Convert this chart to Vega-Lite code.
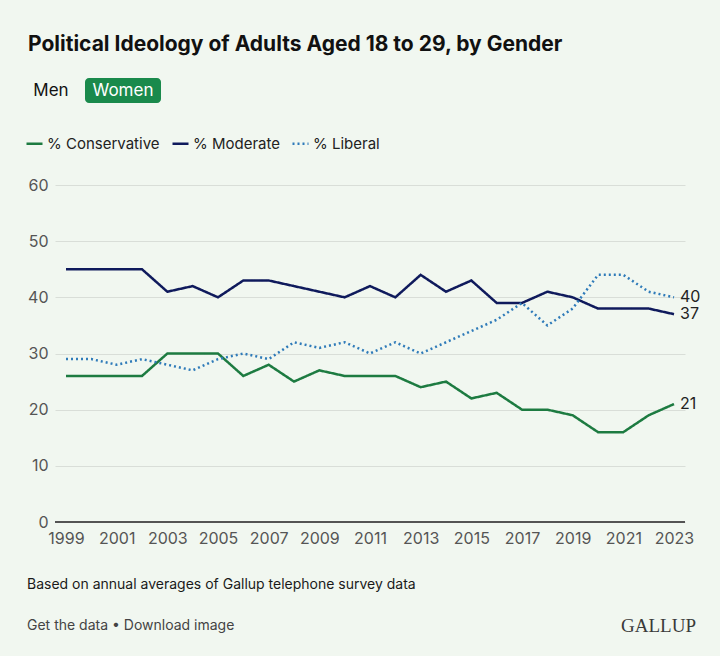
{
  "$schema": "https://vega.github.io/schema/vega-lite/v6.json",
  "background": "#f1f7f0",
  "padding": {"left": 25, "top": 34, "right": 20, "bottom": 20},
  "title": {
    "text": "Political Ideology of Adults Aged 18 to 29, by Gender",
    "anchor": "start",
    "frame": "bounds",
    "dx": 3,
    "fontSize": 21,
    "fontWeight": 700,
    "color": "#111111",
    "offset": 23
  },
  "spacing": 74,
  "vconcat": [
    {
      "width": 120,
      "height": 25,
      "data": {
        "values": [
          {"gender": "Men", "selected": "no"},
          {"gender": "Women", "selected": "yes"}
        ]
      },
      "encoding": {
        "x": {
          "field": "gender",
          "type": "nominal",
          "scale": {"type": "point", "range": [-4, 68], "padding": 0},
          "axis": null
        }
      },
      "layer": [
        {
          "transform": [{"filter": "datum.selected == 'yes'"}],
          "mark": {"type": "bar", "width": 76, "cornerRadius": 4, "color": "#1a8a4c"}
        },
        {
          "mark": {"type": "text", "fontSize": 17},
          "encoding": {
            "text": {"field": "gender"},
            "color": {
              "condition": {"test": "datum.selected == 'yes'", "value": "#ffffff"},
              "value": "#111111"
            }
          }
        }
      ],
      "view": {"stroke": null}
    },
    {
      "spacing": 32,
      "vconcat": [
        {
          "width": 630,
          "height": 337,
          "data": {
            "values": [
              {"year": 1999, "series": "% Conservative", "value": 26},
              {"year": 2000, "series": "% Conservative", "value": 26},
              {"year": 2001, "series": "% Conservative", "value": 26},
              {"year": 2002, "series": "% Conservative", "value": 26},
              {"year": 2003, "series": "% Conservative", "value": 30},
              {"year": 2004, "series": "% Conservative", "value": 30},
              {"year": 2005, "series": "% Conservative", "value": 30},
              {"year": 2006, "series": "% Conservative", "value": 26},
              {"year": 2007, "series": "% Conservative", "value": 28},
              {"year": 2008, "series": "% Conservative", "value": 25},
              {"year": 2009, "series": "% Conservative", "value": 27},
              {"year": 2010, "series": "% Conservative", "value": 26},
              {"year": 2011, "series": "% Conservative", "value": 26},
              {"year": 2012, "series": "% Conservative", "value": 26},
              {"year": 2013, "series": "% Conservative", "value": 24},
              {"year": 2014, "series": "% Conservative", "value": 25},
              {"year": 2015, "series": "% Conservative", "value": 22},
              {"year": 2016, "series": "% Conservative", "value": 23},
              {"year": 2017, "series": "% Conservative", "value": 20},
              {"year": 2018, "series": "% Conservative", "value": 20},
              {"year": 2019, "series": "% Conservative", "value": 19},
              {"year": 2020, "series": "% Conservative", "value": 16},
              {"year": 2021, "series": "% Conservative", "value": 16},
              {"year": 2022, "series": "% Conservative", "value": 19},
              {"year": 2023, "series": "% Conservative", "value": 21},
              {"year": 1999, "series": "% Moderate", "value": 45},
              {"year": 2000, "series": "% Moderate", "value": 45},
              {"year": 2001, "series": "% Moderate", "value": 45},
              {"year": 2002, "series": "% Moderate", "value": 45},
              {"year": 2003, "series": "% Moderate", "value": 41},
              {"year": 2004, "series": "% Moderate", "value": 42},
              {"year": 2005, "series": "% Moderate", "value": 40},
              {"year": 2006, "series": "% Moderate", "value": 43},
              {"year": 2007, "series": "% Moderate", "value": 43},
              {"year": 2008, "series": "% Moderate", "value": 42},
              {"year": 2009, "series": "% Moderate", "value": 41},
              {"year": 2010, "series": "% Moderate", "value": 40},
              {"year": 2011, "series": "% Moderate", "value": 42},
              {"year": 2012, "series": "% Moderate", "value": 40},
              {"year": 2013, "series": "% Moderate", "value": 44},
              {"year": 2014, "series": "% Moderate", "value": 41},
              {"year": 2015, "series": "% Moderate", "value": 43},
              {"year": 2016, "series": "% Moderate", "value": 39},
              {"year": 2017, "series": "% Moderate", "value": 39},
              {"year": 2018, "series": "% Moderate", "value": 41},
              {"year": 2019, "series": "% Moderate", "value": 40},
              {"year": 2020, "series": "% Moderate", "value": 38},
              {"year": 2021, "series": "% Moderate", "value": 38},
              {"year": 2022, "series": "% Moderate", "value": 38},
              {"year": 2023, "series": "% Moderate", "value": 37},
              {"year": 1999, "series": "% Liberal", "value": 29},
              {"year": 2000, "series": "% Liberal", "value": 29},
              {"year": 2001, "series": "% Liberal", "value": 28},
              {"year": 2002, "series": "% Liberal", "value": 29},
              {"year": 2003, "series": "% Liberal", "value": 28},
              {"year": 2004, "series": "% Liberal", "value": 27},
              {"year": 2005, "series": "% Liberal", "value": 29},
              {"year": 2006, "series": "% Liberal", "value": 30},
              {"year": 2007, "series": "% Liberal", "value": 29},
              {"year": 2008, "series": "% Liberal", "value": 32},
              {"year": 2009, "series": "% Liberal", "value": 31},
              {"year": 2010, "series": "% Liberal", "value": 32},
              {"year": 2011, "series": "% Liberal", "value": 30},
              {"year": 2012, "series": "% Liberal", "value": 32},
              {"year": 2013, "series": "% Liberal", "value": 30},
              {"year": 2014, "series": "% Liberal", "value": 32},
              {"year": 2015, "series": "% Liberal", "value": 34},
              {"year": 2016, "series": "% Liberal", "value": 36},
              {"year": 2017, "series": "% Liberal", "value": 39},
              {"year": 2018, "series": "% Liberal", "value": 35},
              {"year": 2019, "series": "% Liberal", "value": 38},
              {"year": 2020, "series": "% Liberal", "value": 44},
              {"year": 2021, "series": "% Liberal", "value": 44},
              {"year": 2022, "series": "% Liberal", "value": 41},
              {"year": 2023, "series": "% Liberal", "value": 40}
            ]
          },
          "encoding": {
            "x": {
              "field": "year",
              "type": "quantitative",
              "scale": {"domain": [1998.566, 2023.434], "nice": false, "zero": false},
              "axis": {
                "values": [1999, 2001, 2003, 2005, 2007, 2009, 2011, 2013, 2015, 2017, 2019, 2021, 2023],
                "format": "d",
                "title": null,
                "grid": false,
                "domain": false,
                "ticks": false,
                "labelPadding": 8,
                "labelFontSize": 16,
                "labelColor": "#555555"
              }
            },
            "y": {
              "field": "value",
              "type": "quantitative",
              "scale": {"domain": [0, 60], "nice": false},
              "axis": {
                "values": [0, 10, 20, 30, 40, 50, 60],
                "title": null,
                "domain": false,
                "ticks": false,
                "gridColor": "#d9ded8",
                "labelPadding": 7,
                "labelFontSize": 16,
                "labelColor": "#555555"
              }
            }
          },
          "layer": [
            {
              "mark": {"type": "rule", "color": "#555555", "strokeWidth": 1.5},
              "encoding": {"x": null, "y": {"datum": 0}}
            },
            {
              "mark": {"type": "line", "strokeWidth": 2.5},
              "encoding": {
                "color": {
                  "field": "series",
                  "type": "nominal",
                  "sort": null,
                  "scale": {
                    "domain": ["% Conservative", "% Moderate", "% Liberal"],
                    "range": ["#1d7b41", "#0f1a5c", "#2f7bb9"]
                  },
                  "legend": {
                    "orient": "none",
                    "legendX": -30,
                    "legendY": 56,
                    "direction": "horizontal",
                    "title": null,
                    "symbolType": "stroke",
                    "symbolSize": 256,
                    "symbolStrokeWidth": 2.5,
                    "labelFontSize": 15,
                    "labelColor": "#222222",
                    "labelOffset": 3,
                    "columnPadding": 7
                  }
                },
                "strokeDash": {
                  "field": "series",
                  "type": "nominal",
                  "sort": null,
                  "scale": {
                    "domain": ["% Conservative", "% Moderate", "% Liberal"],
                    "range": [[1, 0], [1, 0], [2, 3]]
                  },
                  "legend": {
                    "orient": "none",
                    "legendX": -30,
                    "legendY": 56,
                    "direction": "horizontal",
                    "title": null,
                    "symbolType": "stroke",
                    "symbolSize": 256,
                    "symbolStrokeWidth": 2.5,
                    "labelFontSize": 15,
                    "labelColor": "#222222",
                    "labelOffset": 3,
                    "columnPadding": 7
                  }
                }
              }
            },
            {
              "transform": [{"filter": "datum.year == 2023"}],
              "mark": {"type": "text", "align": "left", "baseline": "middle", "dx": 6, "fontSize": 16, "color": "#222222"},
              "encoding": {"text": {"field": "value", "type": "quantitative"}}
            }
          ],
          "view": {"stroke": null}
        },
        {
          "width": 669,
          "height": 41,
          "data": {
            "values": [
              {"label": "Based on annual averages of Gallup telephone survey data", "row": "note", "pos": 0, "kind": "text"},
              {"label": "Get the data • Download image", "row": "links", "pos": 0, "kind": "link"},
              {"label": "GALLUP", "row": "links", "pos": 1, "kind": "logo"}
            ]
          },
          "encoding": {
            "x": {"field": "pos", "type": "quantitative", "scale": {"domain": [0, 1], "range": [-28, 641]}, "axis": null},
            "y": {
              "field": "row",
              "type": "nominal",
              "scale": {"type": "point", "domain": ["note", "links"], "padding": 0},
              "axis": null
            },
            "text": {"field": "label"}
          },
          "layer": [
            {
              "transform": [{"filter": "datum.kind == 'text'"}],
              "mark": {"type": "text", "align": "left", "baseline": "middle", "fontSize": 14, "color": "#1a1a1a"}
            },
            {
              "transform": [{"filter": "datum.kind == 'link'"}],
              "mark": {"type": "text", "align": "left", "baseline": "middle", "fontSize": 14, "color": "#444444"}
            },
            {
              "transform": [{"filter": "datum.kind == 'logo'"}],
              "mark": {"type": "text", "align": "right", "baseline": "middle", "fontSize": 19, "font": "Liberation Serif", "color": "#3a3a3a"}
            }
          ],
          "view": {"stroke": null}
        }
      ]
    }
  ],
  "config": {
    "font": "Inter",
    "view": {"stroke": null}
  }
}
